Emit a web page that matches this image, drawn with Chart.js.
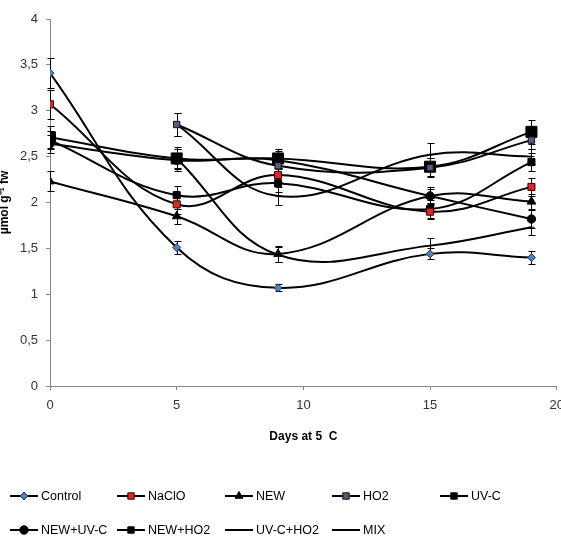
<!DOCTYPE html>
<html>
<head>
<meta charset="utf-8">
<script src="https://cdn.jsdelivr.net/npm/chart.js@4.4.1/dist/chart.umd.min.js"></script>
<style>
  html, body { margin: 0; padding: 0; background: #fff; overflow: hidden; }
  #wrap { position: relative; width: 561px; height: 553px; overflow: hidden; }
  #chart { position: absolute; left: -5px; top: 0; }
</style>
</head>
<body>
<div id="wrap"><canvas id="chart" width="577" height="553"></canvas></div>
<script>
// sampling days
const days = [0, 5, 9, 15, 19];

// means per treatment (null = not measured)
const control  = [3.41, 1.51, 1.07, 1.44, 1.40];
const naclo    = [3.07, 1.98, 2.30, 1.90, 2.17];
const neww     = [2.23, 1.85, 1.44, 2.07, 2.01];
const ho2      = [null, 2.85, 2.40, 2.38, 2.68];
const uvc      = [2.71, 2.48, 2.48, 2.39, 2.77];
const newUvc   = [2.64, 2.46, 2.46, 2.07, 1.82];
const newHo2   = [2.68, 2.08, 2.21, 1.93, 2.44];
const uvcHo2   = [null, 2.85, 2.07, 2.52, 2.50];
const mix      = [null, 2.48, 1.43, 1.53, 1.73];

// error bars
const controlErr = [0.16, 0.07, 0.04, 0.06, 0.07];
const nacloErr   = [0.16, 0.10, 0.08, 0.08, 0.10];
const newErr     = [0.11, 0.08, 0.09, 0.08, 0.08];
const ho2Err     = [0, 0.13, 0.10, 0.10, 0.10];
const uvcErr     = [0.12, 0.12, 0.10, 0.10, 0.13];
const newUvcErr  = [0.10, 0.12, 0.10, 0.10, 0.10];
const newHo2Err  = [0.10, 0.10, 0.10, 0.10, 0.10];
const uvcHo2Err  = [0, 0.13, 0.10, 0.13, 0.08];
const mixErr     = [0, 0.10, 0.08, 0.08, 0.08];

const yTicks = [0, 0.5, 1, 1.5, 2, 2.5, 3, 3.5, 4];

Chart.defaults.font.family = "'Liberation Sans', Arial, sans-serif";
Chart.defaults.color = '#333';

function series(label, values, errors, style, radius, bg, border) {
  return {
    label: label,
    raw: values,
    errors: errors,
    data: values.map((v, i) => v == null ? null : { x: days[i], y: v }).filter(p => p),
    borderColor: '#000',
    borderWidth: 2,
    tension: 0.4,
    fill: false,
    pointStyle: style,
    pointRadius: radius,
    pointBackgroundColor: bg,
    pointBorderColor: border,
    pointBorderWidth: 1
  };
}

const errorBars = {
  id: 'errorBars',
  beforeDatasetsDraw(chart) {
    const ctx = chart.ctx, x = chart.scales.x, y = chart.scales.y;
    ctx.save();
    ctx.strokeStyle = '#000';
    ctx.lineWidth = 1;
    chart.data.datasets.forEach(ds => {
      ds.raw.forEach((v, i) => {
        if (v == null || !ds.errors[i]) return;
        const px = Math.round(x.getPixelForValue(days[i])) + 0.5;
        const top = Math.round(y.getPixelForValue(v + ds.errors[i])) + 0.5;
        const bot = Math.round(y.getPixelForValue(v - ds.errors[i])) + 0.5;
        ctx.beginPath();
        ctx.moveTo(px, top); ctx.lineTo(px, bot);
        ctx.moveTo(px - 3, top); ctx.lineTo(px + 4, top);
        ctx.moveTo(px - 3, bot); ctx.lineTo(px + 4, bot);
        ctx.stroke();
      });
    });
    ctx.restore();
  }
};

// legend laid out on a fixed grid like the original
const gridLegend = {
  id: 'gridLegend',
  afterDraw(chart) {
    const ctx = chart.ctx;
    const cols = [10, 117, 225, 332, 440], rows = [496, 530];
    chart.data.datasets.forEach((ds, i) => {
      const x = cols[i % 5] + 5, y = rows[Math.floor(i / 5)];
      ctx.save();
      ctx.strokeStyle = '#000';
      ctx.lineWidth = 2;
      ctx.beginPath(); ctx.moveTo(x, y); ctx.lineTo(x + 28, y); ctx.stroke();
      ctx.fillStyle = ds.pointBackgroundColor;
      ctx.strokeStyle = ds.pointBorderColor;
      ctx.lineWidth = 1;
      Chart.helpers.drawPoint(ctx, {
        pointStyle: ds.pointStyle, rotation: 0, borderWidth: 1,
        radius: Math.min(ds.pointRadius, 4.5)
      }, x + 14, y);
      ctx.fillStyle = '#000';
      ctx.font = "12.5px 'Liberation Sans', Arial, sans-serif";
      ctx.textBaseline = 'middle';
      ctx.fillText(ds.label, x + 31, y + 1);
      ctx.restore();
    });
  }
};

new Chart(document.getElementById('chart'), {
  type: 'line',
  data: {
    datasets: [
      series('Control', control, controlErr, 'rectRot', 4, '#4F81BD', '#1F3864'),
      series('NaClO', naclo, nacloErr, 'rect', 5, '#D42A2A', '#400000'),
      series('NEW', neww, newErr, 'triangle', 5, '#000', '#000'),
      series('HO2', ho2, ho2Err, 'rect', 4.5, '#5A5A7A', '#111'),
      series('UV-C', uvc, uvcErr, 'rect', 7.8, '#000', '#000'),
      series('NEW+UV-C', newUvc, newUvcErr, 'circle', 4.2, '#000', '#000'),
      series('NEW+HO2', newHo2, newHo2Err, 'rect', 5, '#000', '#000'),
      series('UV-C+HO2', uvcHo2, uvcHo2Err, 'line', 3, '#000', '#000'),
      series('MIX', mix, mixErr, 'line', 3, '#000', '#000')
    ]
  },
  options: {
    responsive: false,
    animation: false,
    layout: { padding: { top: 19, right: 10, bottom: 105, left: 0 } },
    plugins: { legend: { display: false }, tooltip: { enabled: false } },
    scales: {
      x: {
        type: 'linear', min: 0, max: 20,
        ticks: { stepSize: 5, padding: 8, font: { size: 13 } },
        grid: { drawOnChartArea: false, tickLength: 4, color: '#878787' },
        border: { color: '#878787' },
        title: { display: true, text: 'Days at 5  C', color: '#000', font: { size: 12, weight: 'bold' }, padding: { top: 4, bottom: 4 } },
        afterFit: s => { s.height = 62; }
      },
      y: {
        min: 0, max: 4,
        afterBuildTicks: s => { s.ticks = yTicks.map(v => ({ value: v })); },
        ticks: { padding: 8, font: { size: 13 }, callback: v => String(v).replace('.', ',') },
        grid: { drawOnChartArea: false, tickLength: 4, color: '#878787' },
        border: { color: '#878787' },
        title: { display: true, text: 'µmol g⁻¹ fw', color: '#000', font: { size: 12, weight: 'bold' }, padding: { top: 2, bottom: 2 } },
        afterFit: s => { s.width = 55; }
      }
    }
  },
  plugins: [errorBars, gridLegend]
});
</script>
</body>
</html>
